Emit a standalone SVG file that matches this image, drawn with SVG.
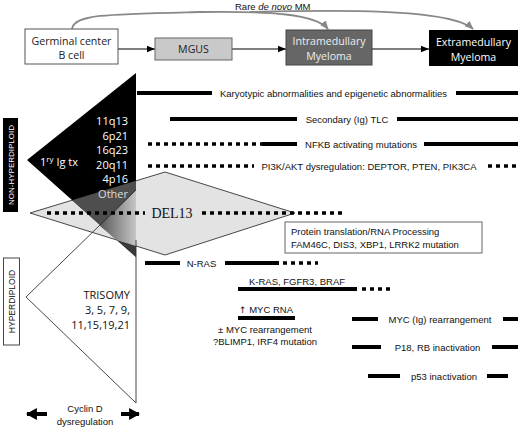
<svg xmlns="http://www.w3.org/2000/svg" width="520" height="428" viewBox="0 0 520 428">
<defs>
<style>
.cal{font-family:"Open Sans","Liberation Sans",sans-serif;font-size:11px}
.box{font-family:"Open Sans","Liberation Sans",sans-serif;font-size:10.6px}
.ar{font-family:"Liberation Sans",Arial,sans-serif;font-size:9.5px;fill:#111}
.solid{stroke:#000;stroke-width:4;fill:none}
.dot{stroke:#000;stroke-width:3.5;stroke-dasharray:4 4;fill:none}
.conn{stroke:#000;stroke-width:1.2;fill:none}
.arc{stroke:#888;stroke-width:1.8;fill:none}
.edge{stroke:#333;stroke-width:0.9;fill:none}
</style>
<marker id="ah" viewBox="0 0 10 10" refX="10" refY="5" markerWidth="8" markerHeight="8" orient="auto" markerUnits="userSpaceOnUse"><path d="M0,1 L10,5 L0,9 z" fill="#000"/></marker>
<marker id="ahg" viewBox="0 0 10 10" refX="9" refY="5" markerWidth="9" markerHeight="9" orient="auto" markerUnits="userSpaceOnUse"><path d="M0,1 L10,5 L0,9 z" fill="#888"/></marker>
<marker id="big" viewBox="0 0 10 10" refX="9" refY="5" markerWidth="11" markerHeight="12" orient="auto-start-reverse" markerUnits="userSpaceOnUse" preserveAspectRatio="none"><path d="M0,0 L10,5 L0,10 z" fill="#000"/></marker>
<clipPath id="cT1"><polygon points="27,160 136,73 136,257"/></clipPath>
<linearGradient id="gg" gradientUnits="userSpaceOnUse" x1="100" y1="0" x2="136" y2="0">
<stop offset="0" stop-color="#5a5a5a"/><stop offset="1" stop-color="#c6c6c6"/>
</linearGradient>
</defs>
<rect width="520" height="428" fill="#fff"/>

<g id="connectors">
<line class="conn" x1="118" y1="49" x2="155" y2="49" marker-end="url(#ah)"/>
<line class="conn" x1="232" y1="49" x2="286" y2="49" marker-end="url(#ah)"/>
<line class="conn" x1="372" y1="49" x2="429" y2="49" marker-end="url(#ah)"/>
<path class="arc" d="M72,29 C74,14 110,14 200,12 C270,11 316,14 328,29" marker-end="url(#ahg)"/>
<path class="arc" d="M250,12 C330,10 450,8 473,29" marker-end="url(#ahg)"/>
</g>
<text x="235" y="10" class="ar" font-size="10">Rare <tspan font-style="italic">de novo</tspan> MM</text>

<g id="n-gcb">
<rect x="25" y="29" width="93" height="35" fill="#fff" stroke="#555"/>
<text class="box" x="71.5" y="44.5" text-anchor="middle" fill="#222">Germinal center</text>
<text class="box" x="71.5" y="58.5" text-anchor="middle" fill="#222">B cell</text>
</g>
<g id="n-mgus">
<rect x="155" y="38" width="77" height="22" fill="#c9c9c9" stroke="#666"/>
<text class="box" x="193.5" y="53" text-anchor="middle" fill="#222">MGUS</text>
</g>
<g id="n-intra">
<rect x="286" y="30" width="86" height="35" fill="#666" stroke="#444"/>
<text class="box" x="329" y="44.5" text-anchor="middle" fill="#eee">Intramedullary</text>
<text class="box" x="329" y="60" text-anchor="middle" fill="#eee">Myeloma</text>
</g>
<g id="n-extra">
<rect x="429" y="30" width="89" height="36" fill="#000"/>
<text class="box" x="473.5" y="46" text-anchor="middle" fill="#fff">Extramedullary</text>
<text class="box" x="473.5" y="61" text-anchor="middle" fill="#fff">Myeloma</text>
</g>

<g id="shapes">
<polygon points="30,213 165,172 295,213 165,255" fill="#e3e3e3" stroke="#333" stroke-width="0.9"/>
<polygon points="27,160 136,73 136,257" fill="#000"/>
<polygon points="30,213 165,172 295,213 165,255" fill="#4e4e4e" clip-path="url(#cT1)"/>
<polygon points="116.9,240.2 136,246 136,257" fill="#3a3a3a"/>
<polygon points="100,226 136,190 136,246 116.9,240.2" fill="url(#gg)"/>
<polyline class="edge" points="136,190 26,297 136,403"/>
<line class="edge" x1="136" y1="240" x2="136" y2="403"/>
</g>

<line class="dot" x1="47" y1="213" x2="145" y2="213"/>
<line class="dot" x1="202" y1="213" x2="344" y2="213"/>
<text x="172" y="218" text-anchor="middle" font-family="'Liberation Serif',serif" font-size="14" fill="#111">DEL13</text>

<g class="cal" text-anchor="end" fill="#fff">
<text x="128" y="125">11q13</text>
<text x="128" y="139.5">6p21</text>
<text x="128" y="154">16q23</text>
<text x="128" y="168.5">20q11</text>
<text x="128" y="183">4p16</text>
<text x="128" y="197.5" fill="#ddd">Other</text>
</g>
<text class="cal" x="40" y="166" fill="#fff">1<tspan font-size="8" dy="-4">ry</tspan><tspan dy="4"> Ig tx</tspan></text>

<g class="cal" text-anchor="end" fill="#111">
<text x="130" y="299">TRISOMY</text>
<text x="130" y="314">3, 5, 7, 9,</text>
<text x="130" y="328.5">11,15,19,21</text>
</g>

<g id="labels-left">
<rect x="3" y="118" width="15" height="94" fill="#000"/>
<text transform="translate(13.8,165) rotate(-90)" text-anchor="middle" font-family="'Liberation Sans',Arial,sans-serif" font-size="8" fill="#fff">NON-HYPERDIPLOID</text>
<rect x="3.5" y="258" width="16" height="87" fill="#fff" stroke="#333" stroke-width="0.9"/>
<text transform="translate(14.8,301.5) rotate(-90)" text-anchor="middle" font-family="'Liberation Sans',Arial,sans-serif" font-size="8.5" fill="#111">HYPERDIPLOID</text>
</g>

<g id="events">
<line class="solid" x1="137" y1="93" x2="212" y2="93"/>
<text class="ar" x="220" y="96.5">Karyotypic abnormalities and epigenetic abnormalities</text>
<line class="solid" x1="456" y1="93" x2="518" y2="93"/>

<line class="solid" x1="170" y1="119" x2="297" y2="119"/>
<text class="ar" x="347" y="122.5" text-anchor="middle">Secondary (Ig) TLC</text>
<line class="solid" x1="397" y1="119" x2="518" y2="119"/>

<line class="dot" x1="148" y1="144" x2="262" y2="144"/>
<line class="solid" x1="262" y1="144" x2="297" y2="144"/>
<text class="ar" x="361" y="147.5" text-anchor="middle">NFKB activating mutations</text>
<line class="solid" x1="424" y1="144" x2="518" y2="144"/>

<line class="dot" x1="148" y1="166" x2="254" y2="166"/>
<text class="ar" x="369" y="169.5" text-anchor="middle">PI3K/AKT dysregulation: DEPTOR, PTEN, PIK3CA</text>
<line class="dot" x1="488" y1="166" x2="520" y2="166"/>

<rect x="285" y="222" width="197" height="31" fill="#fff" stroke="#555" stroke-width="0.9"/>
<text class="ar" x="291" y="234.5" font-size="10">Protein translation/RNA Processing</text>
<text class="ar" x="291" y="248" font-size="10">FAM46C, DIS3, XBP1, LRRK2 mutation</text>

<line class="solid" x1="145" y1="263" x2="180" y2="263"/>
<text class="ar" x="201.5" y="266.5" text-anchor="middle">N-RAS</text>
<line class="solid" x1="225" y1="263" x2="279" y2="263"/>
<line class="dot" x1="283" y1="263" x2="318" y2="263"/>

<text class="ar" x="297" y="284.5" text-anchor="middle" font-size="10">K-RAS, FGFR3, BRAF</text>
<line class="solid" x1="238" y1="289" x2="357" y2="289"/>
<line class="dot" x1="362" y1="289" x2="390" y2="289"/>

<text class="ar" x="266" y="313" text-anchor="middle"><tspan font-family="'DejaVu Sans',sans-serif" font-size="9">↑</tspan> MYC RNA</text>
<line class="solid" x1="238" y1="318" x2="295" y2="318"/>
<text class="ar" x="265" y="332.5" text-anchor="middle">± MYC rearrangement</text>
<text class="ar" x="265" y="344.5" text-anchor="middle">?BLIMP1, IRF4 mutation</text>

<line class="solid" x1="352" y1="319" x2="378" y2="319"/>
<text class="ar" x="440" y="322.5" text-anchor="middle">MYC (Ig) rearrangement</text>
<line class="solid" x1="503" y1="319" x2="518" y2="319"/>

<line class="solid" x1="352" y1="347" x2="381" y2="347"/>
<text class="ar" x="437.5" y="350.5" text-anchor="middle">P18, RB inactivation</text>
<line class="solid" x1="492" y1="347" x2="518" y2="347"/>

<line class="solid" x1="368" y1="376" x2="400" y2="376"/>
<text class="ar" x="444" y="379.5" text-anchor="middle">p53 inactivation</text>
<line class="solid" x1="487" y1="376" x2="508" y2="376"/>
</g>

<g id="cyclin">
<line x1="27" y1="414" x2="47" y2="414" stroke="#000" stroke-width="4" marker-start="url(#big)"/>
<line x1="121" y1="414" x2="139" y2="414" stroke="#000" stroke-width="4" marker-end="url(#big)"/>
<text class="ar" x="85" y="411.5" text-anchor="middle" font-size="10">Cyclin D</text>
<text class="ar" x="85" y="425" text-anchor="middle" font-size="10">dysregulation</text>
</g>
</svg>
